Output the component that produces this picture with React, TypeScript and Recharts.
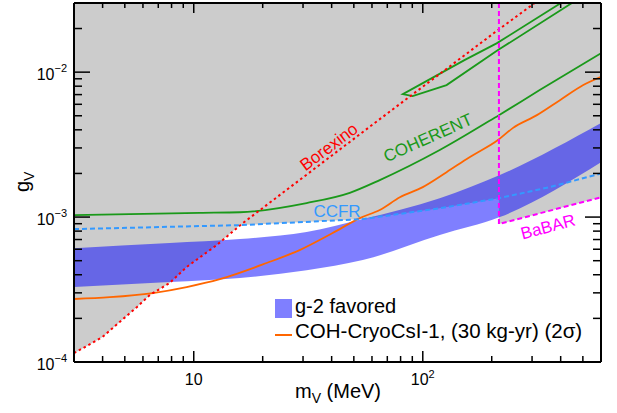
import React from 'react';
import { ComposedChart, Area, Line, XAxis, YAxis, Legend } from 'recharts';

const W = 617;
const H = 413;
const X_MIN = 3;
const X_MAX = 600;
const Y_MIN = 1e-4;
const Y_MAX = 3e-2;

// Borexino (red dotted) — m_V in MeV, g_V
const borexinoM = [3, 4, 4.75, 5.64, 6.43, 7.85, 9.31, 12.6, 16.4, 64.9, 210, 308];
const borexinoG = [1.15e-4, 1.49e-4, 1.89e-4, 2.39e-4, 2.9e-4, 3.51e-4, 4.52e-4, 6.41e-4, 9.1e-4, 4.74e-3, 1.92e-2, 3.0e-2];

// CCFR (blue dashed); 2nd point is where it meets Borexino
const ccfrM = [3, 15.9, 54.7, 118.6, 215, 359, 600];
const ccfrG = [8.26e-4, 8.8e-4, 9.68e-4, 1.15e-3, 1.35e-3, 1.61e-3, 2.0e-3];

// BaBAR (magenta dashed)
const babarM = [215, 215, 600];
const babarG = [3.0e-2, 8.95e-4, 1.37e-3];

// COHERENT, lower curve and the closed wedge at the top
const coherentM = [3, 10.6, 15.9, 31.1, 48, 64.9, 118.6, 215, 324, 600];
const coherentG = [1.03e-3, 1.07e-3, 1.08e-3, 1.25e-3, 1.47e-3, 1.8e-3, 2.9e-3, 5.05e-3, 7.52e-3, 1.35e-2];
const wedgeM = [448, 213, 127, 90.3, 81.8, 100, 152, 210, 401];
const wedgeG = [3.0e-2, 1.42e-2, 8.14e-3, 6.83e-3, 7.05e-3, 8.4e-3, 1.21e-2, 1.58e-2, 3.0e-2];

// COH-CryoCsI-1 projection (orange)
const cryoM = [3, 4.3, 6.62, 9.31, 13, 20.8, 29, 40.4, 53.1, 64.9, 79.4, 100, 127, 160, 213, 247, 315, 397, 500, 600];
const cryoG = [2.72e-4, 2.8e-4, 2.99e-4, 3.29e-4, 3.73e-4, 4.82e-4, 5.92e-4, 7.76e-4, 9.84e-4, 1.12e-3, 1.37e-3, 1.61e-3, 2.04e-3, 2.59e-3, 3.4e-3, 4.11e-3, 5.05e-3, 6.41e-3, 8.13e-3, 9.3e-3];

// g-2 favored band
const bandM = [3, 7.85, 15.9, 31.1, 54.7, 118.6, 217, 600];
const bandLow = [3.29e-4, 3.56e-4, 3.8e-4, 4.3e-4, 5.05e-4, 7.52e-4, 1.0e-3, 2.39e-3];
const bandHigh = [6.1e-4, 6.62e-4, 7.05e-4, 7.88e-4, 9.68e-4, 1.35e-3, 1.95e-3, 4.45e-3];

const xTicks = [4, 5, 6, 7, 8, 9, 10, 20, 30, 40, 50, 60, 70, 80, 90, 100, 200, 300, 400, 500];
const yTicks = [1e-4, 2e-4, 3e-4, 4e-4, 5e-4, 6e-4, 7e-4, 8e-4, 9e-4, 1e-3, 2e-3, 3e-3, 4e-3, 5e-3, 6e-3, 7e-3, 8e-3, 9e-3, 1e-2, 2e-2];
const xTickLabels = [{ value: 10, base: '10', exp: '' }, { value: 100, base: '10', exp: '2' }];
const yTickLabels = [{ value: 1e-4, base: '10', exp: '−4' }, { value: 1e-3, base: '10', exp: '−3' }, { value: 1e-2, base: '10', exp: '−2' }];

const zip = (m: number[], g: number[]) => m.map((v, i) => ({ m: v, g: g[i] }));

const borexino = zip(borexinoM, borexinoG);
const ccfr = zip(ccfrM, ccfrG);
const babar = zip(babarM, babarG);
const coherent = zip(coherentM, coherentG);
const wedge = zip(wedgeM, wedgeG);
const cryo = zip(cryoM, cryoG);
const band = bandM.map((m, i) => ({ m, range: [bandLow[i], bandHigh[i]] }));

// excluded region: below by Borexino, then CCFR, then BaBAR
const grayEdge = [
  ...borexino.filter((p) => p.m < ccfrM[1]),
  ...ccfr.filter((p) => p.m >= ccfrM[1] && p.m <= babarM[0]),
  ...babar.slice(1),
].map((p) => ({ m: p.m, range: [p.g, Y_MAX] }));

const FONT = '"Liberation Sans", Arial, sans-serif';
const isDecade = (v: number) => Math.abs(Math.log10(v) - Math.round(Math.log10(v))) < 1e-6;
const same = (a: number, b: number) => Math.abs(a / b - 1) < 1e-6;

const BottomTick = (props: any) => {
  const { x, y, payload } = props;
  const v = payload.value;
  const major = isDecade(v);
  const lab = xTickLabels.find((l) => same(l.value, v));
  return (
    <g>
      <line x1={x} x2={x} y1={y} y2={y - (major ? 11 : 6)} stroke="#000" strokeWidth={1.5} />
      {lab && (
        <text x={x} y={y + 23} textAnchor="middle" fontSize={16} fontFamily={FONT} fill="#000">
          {lab.base}
          {lab.exp && <tspan dy={-7} fontSize={11}>{lab.exp}</tspan>}
        </text>
      )}
    </g>
  );
};

const TopTick = (props: any) => {
  const { x, y, payload } = props;
  const major = isDecade(payload.value);
  return <line x1={x} x2={x} y1={y} y2={y + (major ? 10 : 5)} stroke="#000" strokeWidth={1.5} />;
};

const LeftTick = (props: any) => {
  const { x, y, payload } = props;
  const v = payload.value;
  const major = isDecade(v);
  const lab = yTickLabels.find((l) => same(l.value, v));
  return (
    <g>
      <line x1={x} x2={x + (major ? 16 : 8)} y1={y} y2={y} stroke="#000" strokeWidth={1.5} />
      {lab && (
        <text x={x - 7} y={y + 8} textAnchor="end" fontSize={16} fontFamily={FONT} fill="#000">
          {lab.base}
          <tspan dy={-8} fontSize={11}>{lab.exp}</tspan>
        </text>
      )}
    </g>
  );
};

const RightTick = (props: any) => {
  const { x, y, payload } = props;
  const major = isDecade(payload.value);
  return <line x1={x} x2={x - (major ? 16 : 8)} y1={y} y2={y} stroke="#000" strokeWidth={1.5} />;
};

const LegendBox = () => (
  <svg width={330} height={50} style={{ display: 'block', fontFamily: FONT }}>
    <rect x={3} y={7} width={17} height={19} fill="#0000ff" fillOpacity={0.5} />
    <text x={23} y={21} fontSize={20} fill="#000">g-2 favored</text>
    <line x1={3} x2={20} y1={43} y2={43} stroke="#ff6600" strokeWidth={2} />
    <text x={23} y={46} fontSize={20.5} fill="#000">COH-CryoCsI-1, (30 kg-yr) (2σ)</text>
  </svg>
);

const axisLine = { stroke: '#000', strokeWidth: 2 };

export default function App() {
  return (
    <div style={{ position: 'absolute', left: 0, top: 0, width: W, height: H, background: '#fff', fontFamily: FONT }}>
      <ComposedChart width={W} height={H} margin={{ top: 2, right: 15, bottom: 50, left: 73 }}>
        <XAxis
          dataKey="m"
          type="number"
          scale="log"
          domain={[X_MIN, X_MAX]}
          allowDataOverflow
          ticks={xTicks}
          interval={0}
          height={1}
          tickSize={0}
          tickMargin={0}
          tickLine={false}
          axisLine={axisLine}
          tick={BottomTick}
        />
        <XAxis
          xAxisId="top"
          orientation="top"
          dataKey="m"
          type="number"
          scale="log"
          domain={[X_MIN, X_MAX]}
          allowDataOverflow
          ticks={xTicks}
          interval={0}
          height={1}
          tickSize={0}
          tickMargin={0}
          tickLine={false}
          axisLine={axisLine}
          tick={TopTick}
        />
        <YAxis
          type="number"
          scale="log"
          domain={[Y_MIN, Y_MAX]}
          allowDataOverflow
          ticks={yTicks}
          interval={0}
          width={1}
          tickSize={0}
          tickMargin={0}
          tickLine={false}
          axisLine={axisLine}
          tick={LeftTick}
        />
        <YAxis
          yAxisId="right"
          orientation="right"
          type="number"
          scale="log"
          domain={[Y_MIN, Y_MAX]}
          allowDataOverflow
          ticks={yTicks}
          interval={0}
          width={1}
          tickSize={0}
          tickMargin={0}
          tickLine={false}
          axisLine={axisLine}
          tick={RightTick}
        />

        <Area data={grayEdge} dataKey="range" type="linear" fill="#cccccc" fillOpacity={1} stroke="none" isAnimationActive={false} />
        <Area data={band} dataKey="range" type="monotoneX" fill="#0000ff" fillOpacity={0.5} stroke="none" isAnimationActive={false} />

        <Line data={coherent} dataKey="g" type="monotoneX" stroke="#1a991a" strokeWidth={1.8} dot={false} isAnimationActive={false} />
        <Line data={wedge} dataKey="g" type="linear" stroke="#1a991a" strokeWidth={1.8} dot={false} isAnimationActive={false} />
        <Line data={cryo} dataKey="g" type="monotoneX" stroke="#ff6600" strokeWidth={1.8} dot={false} isAnimationActive={false} />
        <Line data={ccfr} dataKey="g" type="linear" stroke="#3399ff" strokeWidth={2} strokeDasharray="5 3" dot={false} isAnimationActive={false} />
        <Line data={borexino} dataKey="g" type="linear" stroke="#ff0000" strokeWidth={2} strokeDasharray="2.5 3" dot={false} isAnimationActive={false} />
        <Line data={babar} dataKey="g" type="linear" stroke="#ff00ff" strokeWidth={2} strokeDasharray="5 3" dot={false} isAnimationActive={false} />

        <Legend
          layout="vertical"
          verticalAlign="middle"
          align="center"
          content={LegendBox}
          wrapperStyle={{ left: 272, top: 292, width: 330, height: 50 }}
        />
      </ComposedChart>

      <svg width={W} height={H} style={{ position: 'absolute', left: 0, top: 0, pointerEvents: 'none', fontFamily: FONT }}>
        <text x={329} y={147} fontSize={17} fill="#ff0000" textAnchor="middle" dominantBaseline="central" transform="rotate(-37 329 147)">Borexino</text>
        <text x={428} y={138} fontSize={17} fill="#1a991a" textAnchor="middle" dominantBaseline="central" transform="rotate(-24 428 138)">COHERENT</text>
        <text x={337} y={211} fontSize={17} fill="#3399ff" textAnchor="middle" dominantBaseline="central">CCFR</text>
        <text x={548} y={227} fontSize={17} fill="#ff00ff" textAnchor="middle" dominantBaseline="central" transform="rotate(-15 548 227)">BaBAR</text>
        <text x={295} y={398} fontSize={20} fill="#000">
          m<tspan dy={5} fontSize={14}>V</tspan>
          <tspan dy={-5}> (MeV)</tspan>
        </text>
        <text transform="translate(29,192) rotate(-90)" fontSize={20} fill="#000">
          g<tspan dy={5} fontSize={14}>V</tspan>
        </text>
      </svg>
    </div>
  );
}
